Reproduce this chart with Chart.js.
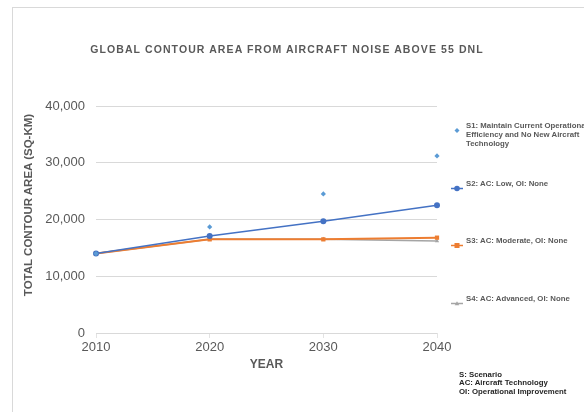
<!DOCTYPE html>
<html>
<head>
<meta charset="utf-8">
<script src="https://cdn.jsdelivr.net/npm/chart.js@4.4.1/dist/chart.umd.min.js"></script>
<style>
  html, body { margin:0; padding:0; background:#fff; }
  body { width:584px; height:412px; overflow:hidden; position:relative; font-family:"Liberation Sans", Arial, sans-serif; }
  #frame { position:absolute; left:12px; top:7px; width:700px; height:500px; border-top:1px solid #D9D9D9; border-left:1px solid #D9D9D9; }
  #c { position:absolute; left:0; top:0; }
  #title { position:absolute; left:0; width:574px; top:43px; line-height:13px; text-align:center; font-weight:bold; font-size:10.5px; letter-spacing:1.1px; color:#595959; white-space:nowrap; }
  #ytitle { position:absolute; left:-121.7px; top:198px; width:300px; height:14px; line-height:14px; text-align:center; font-weight:bold; font-size:11.5px; color:#595959; transform:rotate(-90deg); white-space:nowrap; }
  .lg { position:absolute; font-weight:bold; font-size:7.8px; line-height:9px; color:#595959; white-space:nowrap; }
  .mk { position:absolute; }
  #foot { position:absolute; left:459px; top:370.6px; font-weight:bold; font-size:7.8px; line-height:8.8px; color:#262626; white-space:nowrap; }
</style>
</head>
<body>
<div id="frame"></div>
<canvas id="c" width="584" height="412"></canvas>
<div id="title"></div>
<div id="ytitle"></div>
<div id="legend"></div>
<div id="foot"></div>
<script>
// ---- data ----
const chartTitle = 'GLOBAL CONTOUR AREA FROM AIRCRAFT NOISE ABOVE 55 DNL';
const xTitle = 'YEAR';
const yTitle = 'TOTAL CONTOUR AREA (SQ-KM)';
const years = ['2010', '2020', '2030', '2040'];
const s1Values = [14000, 18700, 24500, 31200];
const s2Values = [14000, 17100, 19700, 22500];
const s3Values = [14000, 16500, 16500, 16800];
const s4Values = [14000, 16500, 16500, 16200];
const seriesLabels = [
  ['S1: Maintain Current Operational', 'Efficiency and No New Aircraft', 'Technology'],
  ['S2: AC: Low, OI: None'],
  ['S3: AC: Moderate, OI: None'],
  ['S4: AC: Advanced, OI: None']
];
const footLines = ['S: Scenario', 'AC: Aircraft Technology', 'OI: Operational Improvement'];
const yMin = 0, yMax = 40000, yStep = 10000;

// ---- styles ----
const colors = ['#5B9BD5', '#4472C4', '#ED7D31', '#A5A5A5'];

document.getElementById('title').textContent = chartTitle;
document.getElementById('ytitle').textContent = yTitle;
document.getElementById('foot').innerHTML = footLines.join('<br>');

const chart = new Chart(document.getElementById('c'), {
  type: 'line',
  data: {
    labels: years,
    datasets: [
      { label: seriesLabels[0].join(' '), data: s1Values, showLine: false, borderColor: colors[0], backgroundColor: colors[0],
        pointStyle: 'rectRot', pointRadius: 2.6, pointBorderWidth: 0, order: 0 },
      { label: seriesLabels[1][0], data: s2Values, borderColor: colors[1], backgroundColor: colors[1], borderWidth: 1.5,
        pointStyle: 'circle', pointRadius: 3, pointBorderWidth: 0, order: 1 },
      { label: seriesLabels[2][0], data: s3Values, borderColor: colors[2], backgroundColor: colors[2], borderWidth: 2,
        pointStyle: 'rect', pointRadius: 3, pointBorderWidth: 0, order: 2 },
      { label: seriesLabels[3][0], data: s4Values, borderColor: colors[3], backgroundColor: colors[3], borderWidth: 1.5,
        pointStyle: 'triangle', pointRadius: 2.5, pointBorderWidth: 0, order: 3 }
    ]
  },
  options: {
    responsive: false,
    animation: false,
    devicePixelRatio: 1,
    layout: { padding: { top: 106, right: 147, bottom: 40, left: 40 } },
    plugins: { legend: { display: false }, title: { display: false }, tooltip: { enabled: false } },
    scales: {
      x: {
        grid: { display: true, drawOnChartArea: false, drawTicks: true, tickLength: 5, color: '#E3E3E3' },
        border: { display: false },
        ticks: { color: '#595959', font: { family: 'Liberation Sans', size: 13 }, padding: 2, maxRotation: 0 },
        title: { display: true, text: xTitle, color: '#595959', font: { family: 'Liberation Sans', size: 12, weight: 'bold' }, padding: { top: 2, bottom: 0 } },
        afterFit: (s) => { s.height = 39; }
      },
      y: {
        min: yMin, max: yMax,
        grid: { color: '#D9D9D9', lineWidth: 1, drawTicks: false },
        border: { display: false },
        ticks: { stepSize: yStep, color: '#595959', font: { family: 'Liberation Sans', size: 13 }, padding: 11,
          callback: (v) => v.toLocaleString('en-US') },
        afterFit: (s) => { s.width = 56; }
      }
    }
  }
});

// ---- HTML legend (labels from the data arrays) ----
const legendY = [125, 183, 240, 298];
const legend = document.getElementById('legend');
function markerSvg(i) {
  const c = colors[i];
  let line = i === 0 ? '' : `<line x1="0" y1="4.5" x2="12" y2="4.5" stroke="${c}" stroke-width="1.5"/>`;
  let m = '';
  if (i === 0) m = `<polygon points="6,2 8.5,4.5 6,7 3.5,4.5" fill="${c}"/>`;
  if (i === 1) m = `<circle cx="6" cy="4.5" r="2.8" fill="${c}"/>`;
  if (i === 2) m = `<rect x="3.5" y="2" width="5" height="5" fill="${c}"/>`;
  if (i === 3) m = `<polygon points="6,2.3 8.3,6.3 3.7,6.3" fill="${c}"/>`;
  return `<svg width="12" height="9" viewBox="0 0 12 9">${line}${m}</svg>`;
}
seriesLabels.forEach((lines, i) => {
  const mk = document.createElement('div');
  mk.className = 'mk';
  mk.style.left = '450.5px';
  mk.style.top = (legendY[i] - 4.5) + 'px';
  mk.innerHTML = markerSvg(i);
  legend.appendChild(mk);
  const t = document.createElement('div');
  t.className = 'lg';
  t.style.left = '466px';
  t.style.top = (legendY[i] - 4.5) + 'px';
  t.innerHTML = lines.join('<br>');
  legend.appendChild(t);
});
</script>
</body>
</html>
